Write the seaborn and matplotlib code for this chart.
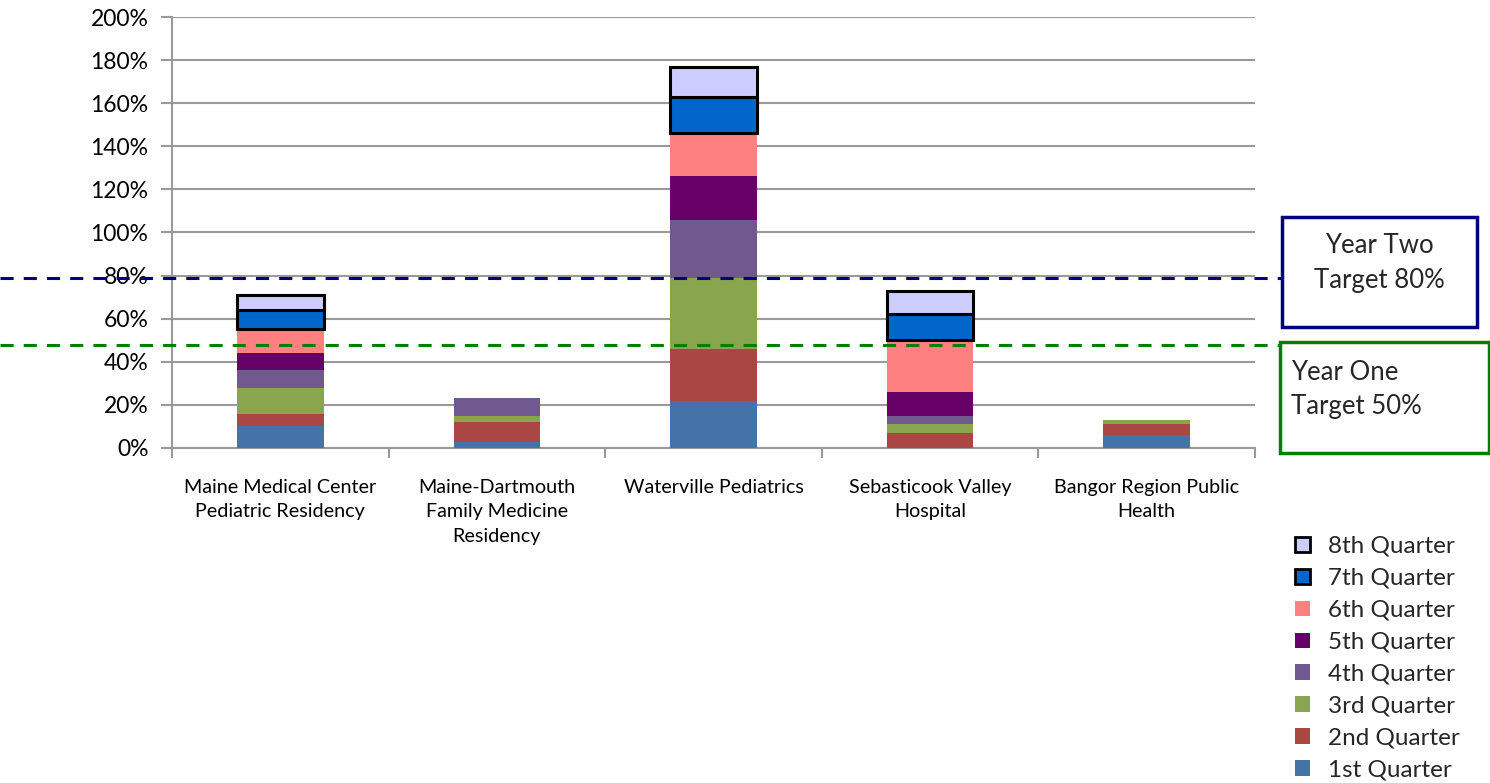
import numpy as np
import pandas as pd
import matplotlib.pyplot as plt
from matplotlib.patches import Patch, Rectangle
from matplotlib.ticker import FixedLocator, FuncFormatter
import seaborn as sns

sites = ["Maine Medical Center\nPediatric Residency",
         "Maine-Dartmouth\nFamily Medicine\nResidency",
         "Waterville Pediatrics",
         "Sebasticook Valley\nHospital",
         "Bangor Region Public\nHealth"]
quarters = ["1st Quarter", "2nd Quarter", "3rd Quarter", "4th Quarter",
            "5th Quarter", "6th Quarter", "7th Quarter", "8th Quarter"]

# percent completed per quarter, one list per site column
q1 = [10, 3, 22, 0, 6]
q2 = [6, 9, 24, 7, 5]
q3 = [12, 3, 33, 4, 2]
q4 = [8, 8, 27, 4, 0]
q5 = [8, 0, 20, 11, 0]
q6 = [11, 0, 20, 24, 0]
q7 = [9, 0, 17, 12, 0]
q8 = [7, 0, 14, 11, 0]
quarter_values = [q1, q2, q3, q4, q5, q6, q7, q8]

colors = ["#4572A7", "#AA4643", "#89A54E", "#71588F",
          "#660066", "#FF8080", "#0066CC", "#CCCCFF"]
outlined = ["7th Quarter", "8th Quarter"]

target_year_two = 79
target_year_one = 48

sns.set_theme(style="white")
plt.rcParams['font.family'] = ['Lato', 'DejaVu Sans']

fig = plt.figure(figsize=(14.9, 7.83), dpi=100)
ax = fig.add_axes([172 / 1490, 1 - 448 / 783, 1083 / 1490, 431 / 783])

bottom = np.zeros(len(sites))
for name, vals, col in zip(quarters, quarter_values, colors):
    vals = np.array(vals, dtype=float)
    n_before = len(ax.patches)
    sns.barplot(x=sites, y=vals, bottom=bottom, color=col, width=0.4,
                errorbar=None, saturation=1, ax=ax, zorder=3,
                edgecolor="black" if name in outlined else col,
                linewidth=2.2 if name in outlined else 0)
    for p in ax.patches[n_before:]:
        if p.get_height() == 0:
            p.set_linewidth(0)
    bottom += vals

ax.set_xlim(-0.5, 4.5)
ax.set_ylim(0, 200)
ax.yaxis.set_major_locator(FixedLocator(np.arange(0, 201, 20)))
ax.yaxis.set_major_formatter(FuncFormatter(lambda v, _: f"{v:.0f}%"))
ax.yaxis.grid(True, color="#9A9A9A", linewidth=1.5, zorder=0)
ax.set_axisbelow(True)
for s in ["top", "right"]:
    ax.spines[s].set_visible(False)
for s in ["left", "bottom"]:
    ax.spines[s].set_color("#9A9A9A")
    ax.spines[s].set_linewidth(1.5)
ax.tick_params(axis="y", left=True, length=8, width=1.5, color="#9A9A9A",
               labelsize=16.5, pad=9, labelcolor="black")
ax.set_xticks(range(len(sites)), labels=sites, linespacing=1.55)
ax.tick_params(axis="x", bottom=False, labelsize=14.2, pad=16, labelcolor="black")
ax.set_xticks(np.arange(-0.5, 4.6, 1), minor=True)
ax.tick_params(axis="x", which="minor", bottom=True, length=7, width=1.5,
               color="#9A9A9A")
ax.set_xlabel("")
ax.set_ylabel("")

# target lines running past the axes
ax.axhline(target_year_two, xmin=-172 / 1083, xmax=(1282 - 172) / 1083,
           color="#000080", linewidth=2.2, linestyle=(0, (4.3, 3.3)),
           clip_on=False, zorder=4)
ax.axhline(target_year_one, xmin=-172 / 1083, xmax=(1280 - 172) / 1083,
           color="#008000", linewidth=2.2, linestyle=(0, (4.3, 3.3)),
           clip_on=False, zorder=4)

def fig_box(x0, y0, x1, y1, color):
    fig.patches.append(Rectangle((x0 / 1490, 1 - y1 / 783), (x1 - x0) / 1490,
                                 (y1 - y0) / 783, transform=fig.transFigure,
                                 fill=False, edgecolor=color, linewidth=2.5))

fig_box(1282, 217, 1477, 327, "#000080")
fig.text(1379 / 1490, 1 - 263 / 783, "Year Two\nTarget 80%", ha="center",
         va="center", fontsize=18.5, linespacing=1.5)
fig_box(1280, 342, 1489, 453, "#008000")
fig.text(1291 / 1490, 1 - 389 / 783, "Year One\nTarget 50%", ha="left",
         va="center", fontsize=18.5, linespacing=1.45)

handles = []
for name, col in zip(quarters[::-1], colors[::-1]):
    edge = "black" if name in outlined else col
    handles.append(Patch(facecolor=col, edgecolor=edge,
                         linewidth=2 if name in outlined else 0, label=name))
fig.legend(handles=handles, loc="upper left",
           bbox_to_anchor=(1295 / 1490, 1 - 536 / 783), frameon=False,
           fontsize=17.5, handlelength=0.6, handleheight=0.6, handletextpad=0.75,
           labelspacing=0.45, borderaxespad=0, borderpad=0)

fig.savefig("out.png", dpi=100)
